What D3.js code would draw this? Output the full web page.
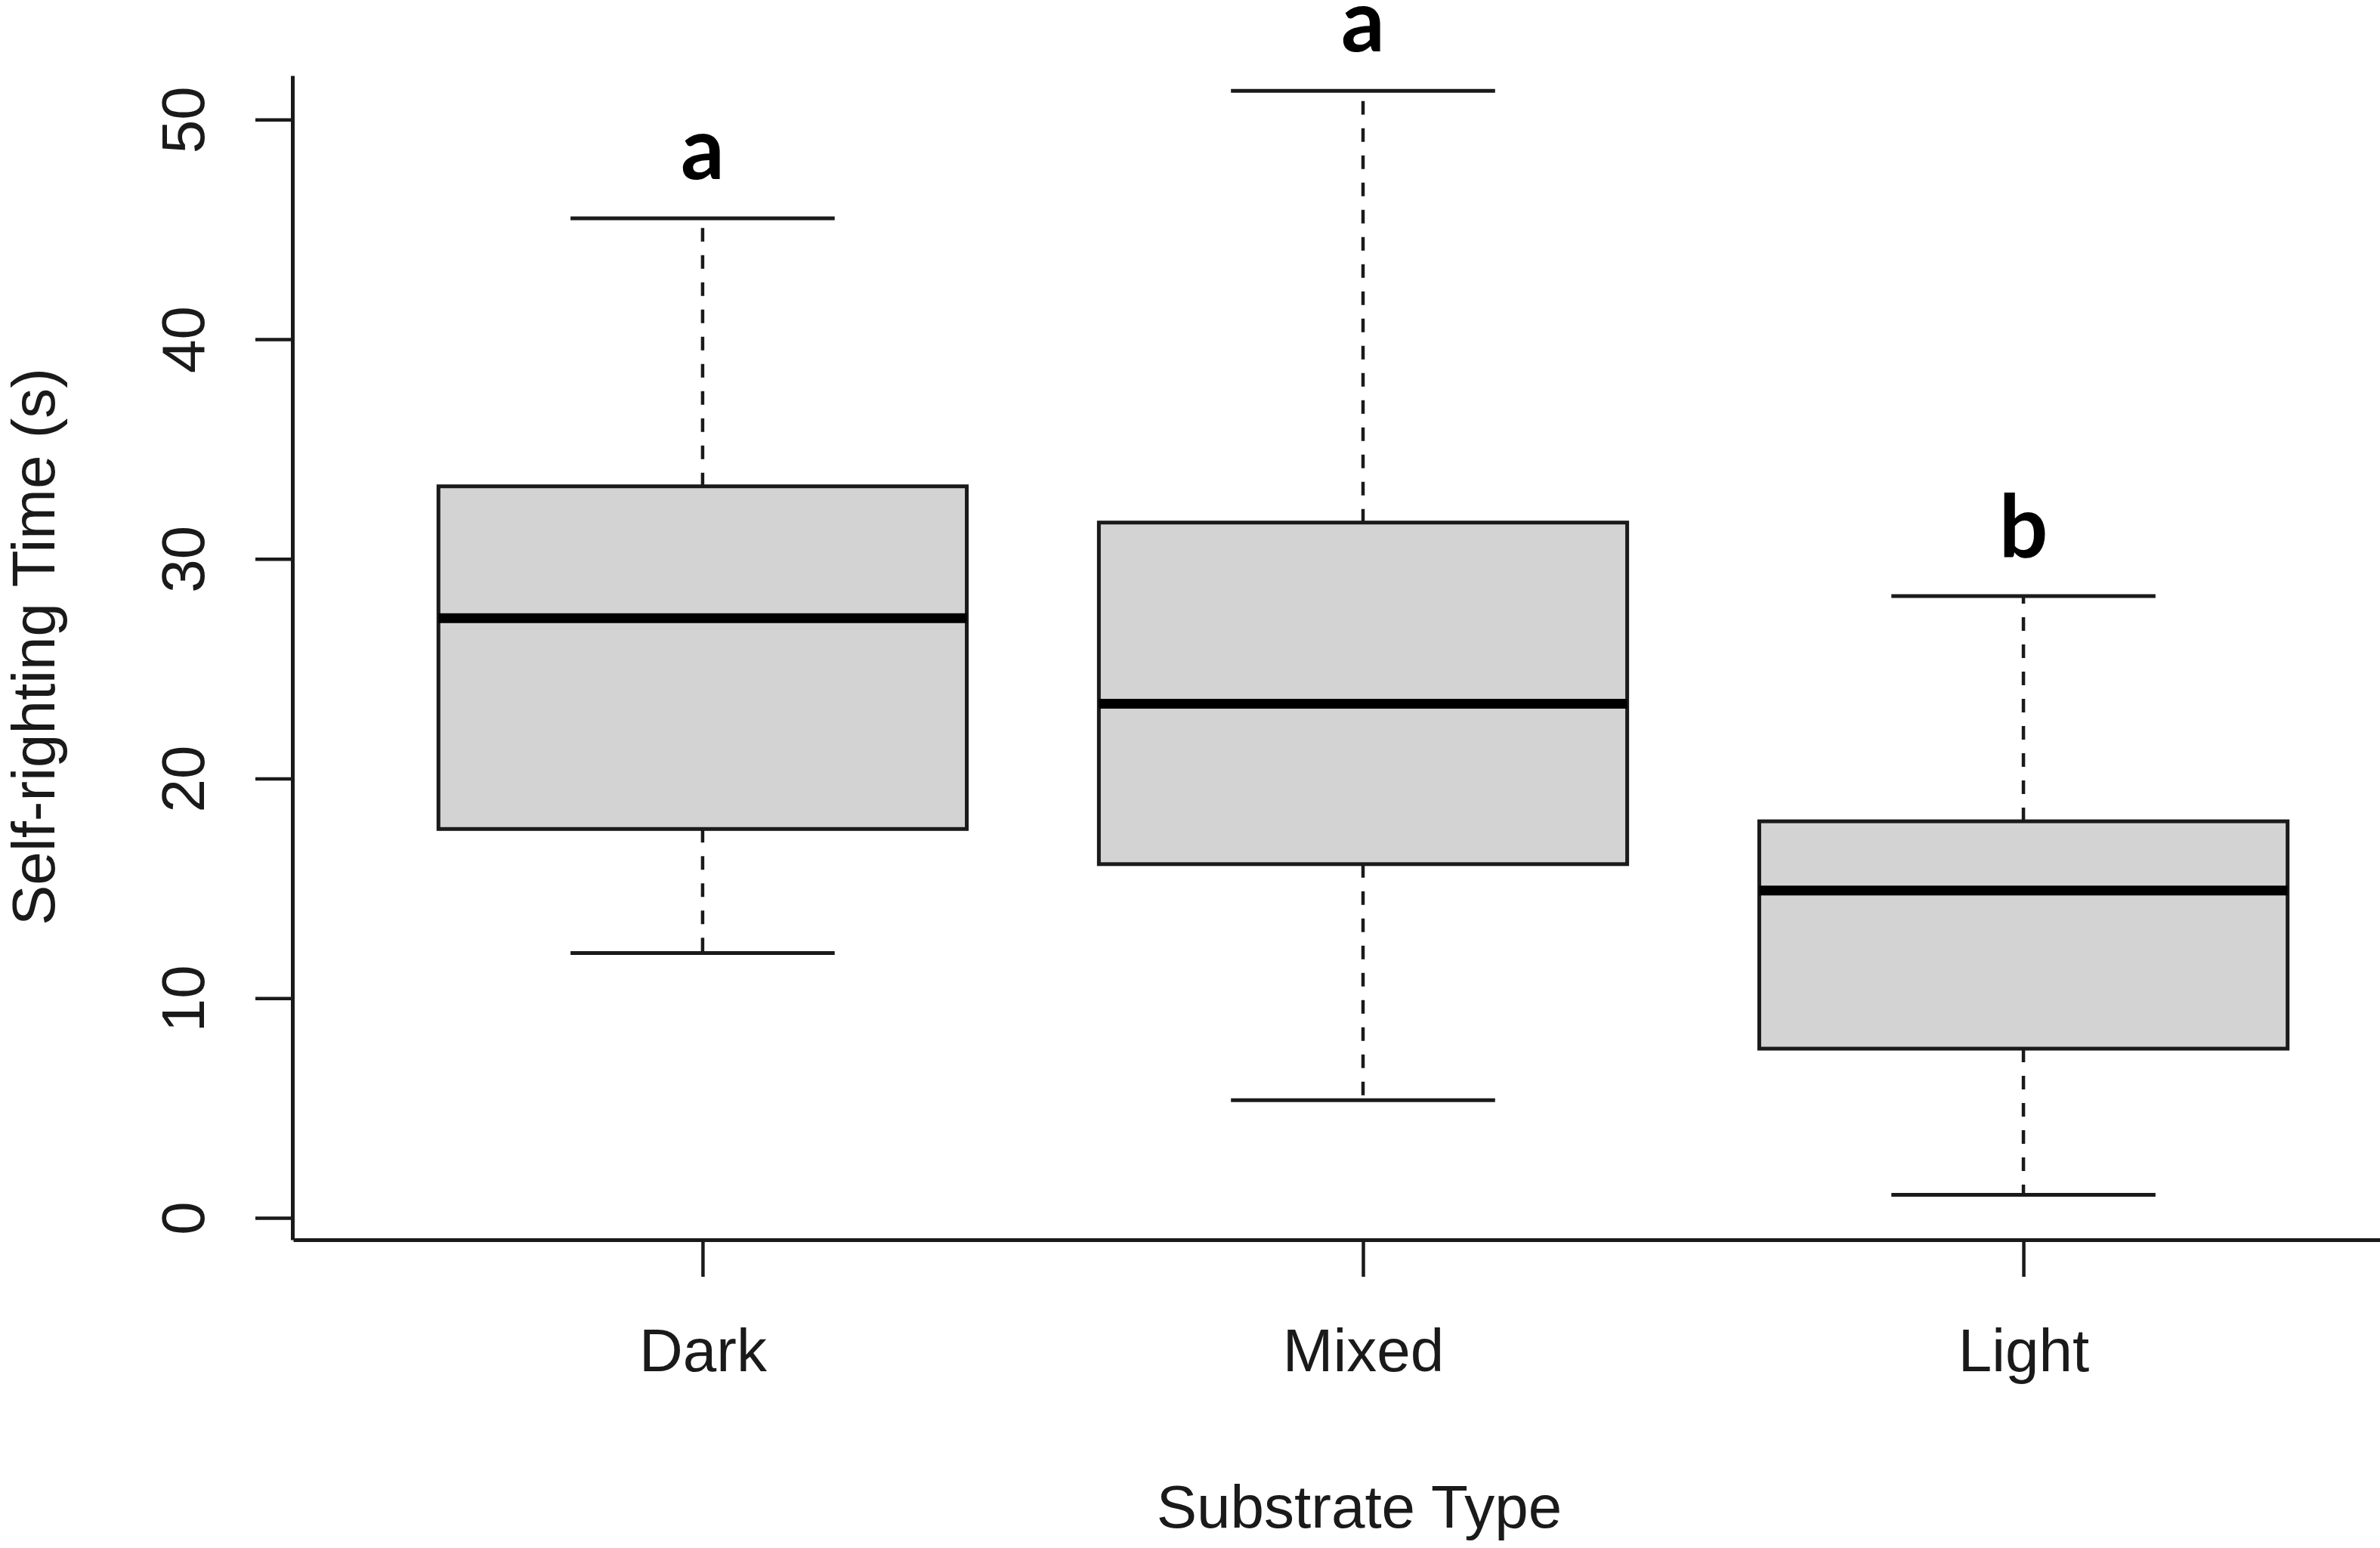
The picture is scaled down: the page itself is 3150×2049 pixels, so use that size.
<!DOCTYPE html>
<html lang="en">
<head>
    <meta charset="UTF-8">
    <title>Self-righting Time by Substrate Type</title>
    <style>
        html, body { margin: 0; padding: 0; background: #fff; }
        svg { display: block; }
        .tick-label { font-family: "Liberation Sans", Arial, sans-serif; font-size: 80px; fill: #1a1a1a; }
        .axis-title { font-family: "Liberation Sans", Arial, sans-serif; font-size: 80px; fill: #1a1a1a; }
        .sig-letter { font-family: Lato, "Open Sans", sans-serif; font-weight: 700; font-size: 114px; fill: #000; }
    </style>
</head>
<body>
    <svg id="chart" width="3150" height="2049"></svg>
    <script src="https://d3js.org/d3.v7.min.js"></script>
    <script>
    // box stats: lower whisker, Q1, median, Q3, upper whisker
    const categories = ["Dark", "Mixed", "Light"];
    const whiskerLow = [12.05, 5.35, 1.05];
    const q1 = [17.7, 16.1, 7.7];
    const medians = [27.3, 23.4, 14.9];
    const q3 = [33.3, 31.65, 18.05];
    const whiskerHigh = [45.5, 51.3, 28.3];
    const letters = ["a", "a", "b"];
    const yTicks = [0, 10, 20, 30, 40, 50];

    const svg = d3.select("#chart");
    const ink = "#1a1a1a";

    // R style extents: boxes at 1..n, xlim widened by 4%
    const x = d3.scaleLinear().domain([0.38, 3.62]).range([388, 3220]);
    const y = d3.scaleLinear().domain([-1, 52]).range([1641, 100]);
    const boxW = (x(1.4) - x(1));      // half of 0.8 box width
    const capW = boxW / 2;

    const boxes = categories.map((c, i) => ({
        name: c, pos: i + 1,
        lo: whiskerLow[i], q1: q1[i], med: medians[i], q3: q3[i], hi: whiskerHigh[i],
        letter: letters[i]
    }));

    // whiskers (dashed, drawn from box edge outward)
    const g = svg.append("g");
    boxes.forEach(b => {
        const cx = x(b.pos);
        [[b.q3, b.hi], [b.q1, b.lo]].forEach(([from, to]) => {
            g.append("line")
                .attr("x1", cx).attr("x2", cx)
                .attr("y1", y(from)).attr("y2", y(to))
                .attr("stroke", ink).attr("stroke-width", 4.5)
                .attr("stroke-dasharray", "18,18");
            g.append("line")
                .attr("x1", cx - capW).attr("x2", cx + capW)
                .attr("y1", y(to)).attr("y2", y(to))
                .attr("stroke", ink).attr("stroke-width", 5);
        });
        g.append("rect")
            .attr("x", cx - boxW).attr("width", 2 * boxW)
            .attr("y", y(b.q3)).attr("height", y(b.q1) - y(b.q3))
            .attr("fill", "#d3d3d3")
            .attr("stroke", ink).attr("stroke-width", 5);
        g.append("line")
            .attr("x1", cx - boxW).attr("x2", cx + boxW)
            .attr("y1", y(b.med)).attr("y2", y(b.med))
            .attr("stroke", "#000").attr("stroke-width", 13);
        g.append("text")
            .attr("class", "sig-letter")
            .attr("x", cx).attr("y", y(b.hi) - 52)
            .attr("text-anchor", "middle")
            .text(b.letter);
    });

    // y axis
    const yAxis = svg.append("g")
        .attr("transform", "translate(387,0)")
        .call(d3.axisLeft(y).tickValues(yTicks).tickSize(49).tickSizeOuter(0));
    yAxis.selectAll(".tick text")
        .attr("class", "tick-label")
        .attr("x", null).attr("dy", null)
        .attr("text-anchor", "middle")
        .attr("transform", "translate(-117,0) rotate(-90)");

    // x axis
    const xAxis = svg.append("g")
        .attr("transform", "translate(0,1641)")
        .call(d3.axisBottom(x).tickValues([1, 2, 3]).tickFormat(d => categories[d - 1])
            .tickSize(49).tickSizeOuter(0));
    xAxis.selectAll(".tick text")
        .attr("class", "tick-label")
        .attr("dy", null)
        .attr("y", 174);

    [yAxis, xAxis].forEach(a => {
        a.select(".domain").attr("stroke", ink).attr("stroke-width", 5);
        a.selectAll(".tick line").attr("stroke", ink).attr("stroke-width", 4.5);
        a.attr("font-family", null).attr("font-size", null);
    });

    // axis titles
    svg.append("text")
        .attr("class", "axis-title")
        .attr("x", 1799).attr("y", 2022)
        .attr("text-anchor", "middle")
        .text("Substrate Type");
    svg.append("text")
        .attr("class", "axis-title")
        .attr("transform", "translate(72,856) rotate(-90)")
        .attr("text-anchor", "middle")
        .text("Self-righting Time (s)");
    </script>
</body>
</html>
